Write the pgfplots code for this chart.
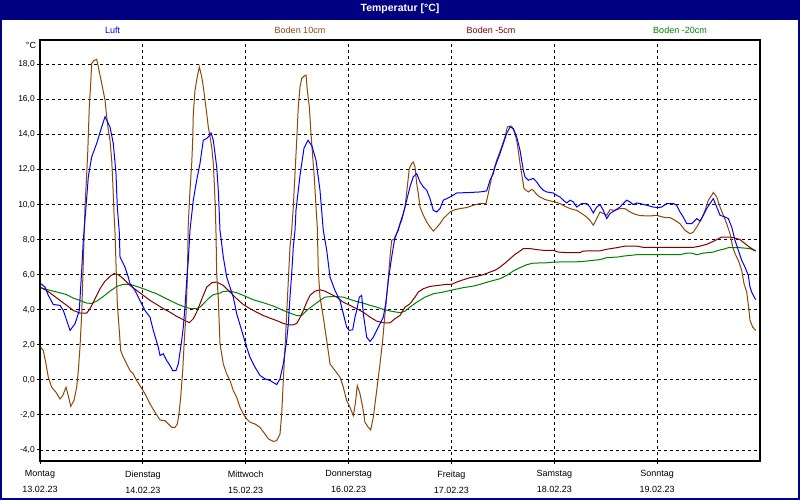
\documentclass[border=0pt]{standalone}
\usepackage{fontspec}
\setmainfont{Liberation Sans}
\usepackage{pgfplots}
\pgfplotsset{compat=1.18}
\definecolor{navy}{RGB}{0,0,128}
\definecolor{luft}{RGB}{0,0,255}
\definecolor{bzehn}{RGB}{140,72,8}
\definecolor{bfuenf}{RGB}{128,0,0}
\definecolor{bzwanzig}{RGB}{0,128,0}
\begin{document}
\begin{tikzpicture}
\useasboundingbox (0bp,0bp) rectangle (800bp,500bp);
\fill[white] (0bp,0bp) rectangle (800bp,500bp);
\fill[navy] (0bp,480bp) rectangle (800bp,500bp);
\draw[navy, line width=2bp] (1bp,0bp) -- (1bp,480bp) (799bp,0bp) -- (799bp,480bp) (0bp,1bp) -- (800bp,1bp);
\node[white, font=\bfseries\fontsize{10.5bp}{12bp}\selectfont] at (400bp,491.5bp) {Temperatur [°C]};
\begin{scope}[font=\fontsize{9bp}{11bp}\selectfont]
\node[luft] at (112.7bp,469.5bp) {Luft};
\node[bzehn] at (300bp,469.5bp) {Boden 10cm};
\node[bfuenf] at (491bp,469.5bp) {Boden -5cm};
\node[bzwanzig] at (680bp,469.5bp) {Boden -20cm};
\node at (31bp,455bp) {°C};
\end{scope}
\begin{axis}[
  at={(40bp,39bp)}, anchor=south west, scale only axis,
  width=720bp, height=421bp,
  xmin=0, xmax=168, ymin=-4.63, ymax=19.39,
  axis line style={line width=1.2bp, black},
  grid=major,
  major grid style={black, dash pattern=on 3bp off 3bp, line width=0.9bp},
  xtick={0,24,...,144},
  xticklabels={{Montag\\13.02.23},{Dienstag\\14.02.23},{Mittwoch\\15.02.23},{Donnerstag\\16.02.23},{Freitag\\17.02.23},{Samstag\\18.02.23},{Sonntag\\19.02.23}},
  ytick={-4,-2,...,18},
  xtick pos=left, ytick pos=left,
  tick align=outside, major tick length=3bp,
  tick style={black, line width=1bp},
  xticklabel style={align=center, font=\fontsize{9bp}{16bp}\selectfont, inner sep=2bp, yshift=-4.5bp},
  yticklabel style={font=\fontsize{8.5bp}{10bp}\selectfont, inner sep=2bp},
  /pgf/number format/.cd, fixed, fixed zerofill, precision=1, use comma, assume math mode=true,
]
% Boden -20cm
\addplot[bzwanzig, line width=1bp] coordinates {
(0.16,5.26)(1.56,5.16)(3.10,5.06)(4.67,4.97)(6.23,4.86)(7.77,4.66)(9.33,4.53)(10.90,4.38)(12.06,4.36)(13.23,4.49)(14.77,4.76)(16.33,5.06)(17.90,5.33)(19.44,5.45)(21.0,5.45)(22.56,5.33)(24.10,5.20)(25.67,5.05)(27.23,4.91)(28.77,4.72)(30.33,4.53)(31.90,4.34)(33.44,4.19)(35.0,4.07)(36.56,4.07)(37.33,4.15)(38.10,4.34)(39.27,4.63)(40.44,4.86)(42.0,4.95)(42.77,5.05)(44.33,5.06)(45.90,4.97)(47.44,4.82)(49.77,4.57)(52.10,4.40)(54.44,4.21)(56.77,3.96)(58.33,3.81)(59.90,3.67)(61.06,3.67)(62.23,3.96)(63.77,4.25)(65.33,4.53)(66.5,4.72)(68.44,4.76)(70.77,4.72)(72.33,4.59)(73.90,4.47)(75.44,4.38)(77.0,4.25)(78.56,4.15)(80.10,4.02)(81.67,3.93)(84.0,3.83)(85.17,3.92)(86.33,4.15)(87.90,4.43)(89.83,4.72)(91.77,4.91)(94.10,5.01)(96.44,5.14)(98.77,5.26)(101.10,5.35)(102.67,5.45)(105.0,5.62)(107.33,5.77)(108.90,5.96)(110.44,6.21)(112.0,6.40)(113.56,6.57)(115.10,6.66)(118.23,6.68)(119.77,6.72)(126.0,6.74)(130.67,6.86)(132.23,6.97)(134.94,7.01)(136.10,7.06)(139.23,7.14)(149.33,7.14)(150.90,7.23)(152.06,7.23)(153.23,7.14)(154.77,7.23)(157.10,7.29)(158.27,7.39)(159.44,7.45)(160.60,7.54)(163.33,7.54)(165.67,7.49)(167.0,7.35)
};
% Boden -5cm
\addplot[bfuenf, line width=1bp] coordinates {
(0.16,5.26)(1.56,5.10)(3.10,4.82)(4.67,4.53)(6.23,4.25)(7.77,3.96)(9.33,3.81)(10.90,3.81)(11.67,4.06)(12.83,4.63)(14.0,5.20)(15.17,5.63)(16.33,5.90)(17.27,6.06)(18.27,6.0)(19.44,5.77)(21.0,5.39)(22.56,5.10)(24.10,4.82)(25.67,4.53)(27.23,4.30)(28.77,4.06)(30.33,3.86)(31.90,3.62)(33.44,3.43)(34.84,3.26)(35.77,3.49)(36.56,3.86)(37.33,4.34)(38.10,4.82)(38.90,5.29)(40.06,5.54)(41.23,5.58)(42.77,5.39)(44.33,5.01)(45.90,4.63)(47.44,4.30)(49.0,4.06)(50.56,3.86)(52.10,3.67)(53.67,3.52)(55.23,3.38)(56.77,3.22)(57.94,3.14)(59.10,3.14)(59.90,3.22)(60.67,3.55)(61.44,3.96)(62.23,4.43)(63.0,4.82)(64.17,5.06)(65.33,5.14)(66.5,5.06)(67.67,4.91)(69.23,4.72)(70.77,4.43)(72.33,4.25)(73.90,4.06)(75.44,3.86)(77.0,3.58)(78.56,3.35)(80.10,3.26)(81.67,3.25)(82.83,3.49)(84.0,3.67)(85.17,4.15)(86.33,4.34)(87.5,4.72)(88.27,5.01)(89.44,5.20)(91.0,5.33)(92.94,5.39)(94.90,5.45)(96.06,5.45)(97.23,5.58)(98.77,5.71)(100.33,5.83)(101.90,5.90)(103.44,6.0)(105.0,6.15)(106.17,6.25)(107.33,6.43)(108.5,6.66)(109.67,6.91)(110.83,7.16)(112.0,7.35)(112.77,7.49)(114.33,7.49)(115.90,7.43)(117.44,7.39)(119.77,7.39)(120.94,7.29)(122.90,7.26)(126.0,7.26)(126.77,7.35)(130.67,7.36)(132.23,7.45)(134.56,7.54)(136.5,7.63)(139.23,7.63)(140.77,7.56)(143.90,7.56)(152.44,7.56)(154.0,7.63)(155.56,7.73)(156.73,7.86)(157.90,8.0)(159.06,8.15)(161.0,8.15)(162.17,8.09)(163.33,8.0)(164.5,7.77)(165.51,7.58)(166.44,7.43)(167.0,7.35)
};
% Boden 10cm
\addplot[bzehn, line width=1bp] coordinates {
(0.16,1.86)(0.77,1.67)(1.40,0.91)(1.94,0.15)(2.73,-0.42)(3.73,-0.71)(4.67,-1.09)(5.30,-0.90)(6.07,-0.42)(6.60,-0.90)(7.16,-1.51)(7.93,-1.18)(8.56,-0.42)(8.94,0.53)(9.33,1.86)(9.73,3.77)(10.10,6.63)(10.34,8.53)(10.5,9.86)(10.90,11.77)(11.13,12.91)(11.50,15.58)(11.83,16.91)(12.06,18.06)(12.6,18.21)(13.23,18.29)(13.60,17.86)(14.40,16.91)(15.17,15.96)(15.56,15.01)(15.94,14.25)(16.33,13.67)(16.73,12.53)(16.96,11.39)(17.27,9.49)(17.5,8.43)(17.73,6.63)(18.04,4.34)(18.50,2.82)(18.83,1.67)(19.44,1.29)(20.23,0.91)(21.0,0.53)(21.77,0.34)(22.56,-0.04)(23.33,-0.33)(24.5,-0.80)(25.67,-1.37)(26.83,-1.85)(28.0,-2.29)(29.17,-2.33)(29.94,-2.52)(30.73,-2.71)(31.5,-2.71)(32.04,-2.52)(32.43,-1.94)(32.83,-0.99)(33.30,0.53)(33.67,2.25)(34.07,3.77)(34.37,5.67)(34.60,8.91)(35.0,10.82)(35.40,12.34)(35.63,13.67)(35.77,15.20)(36.17,16.53)(36.70,17.29)(37.17,17.86)(37.73,17.29)(38.10,16.72)(38.5,15.96)(38.90,15.20)(39.27,14.43)(39.67,13.86)(40.06,13.29)(40.44,12.34)(40.67,11.20)(40.90,9.86)(41.07,8.34)(41.23,6.06)(41.60,4.65)(42.0,2.06)(42.77,0.91)(43.56,0.34)(44.33,-0.04)(45.10,-0.61)(45.90,-1.0)(46.67,-1.57)(47.44,-1.94)(48.23,-2.23)(49.0,-2.42)(50.17,-2.52)(51.33,-2.71)(52.5,-3.09)(53.27,-3.37)(54.44,-3.51)(55.23,-3.47)(56.0,-3.09)(56.40,-1.94)(56.77,-0.04)(57.17,1.86)(57.56,3.77)(57.94,5.67)(58.33,7.58)(58.73,8.53)(59.10,9.86)(59.5,11.77)(59.90,13.67)(60.27,15.58)(60.67,16.72)(61.06,17.20)(61.6,17.33)(62.07,17.39)(62.37,16.53)(62.84,15.58)(63.23,14.06)(63.63,12.72)(64.0,11.58)(64.4,9.86)(64.70,8.72)(64.94,6.25)(65.33,4.72)(66.10,3.58)(66.90,2.25)(67.67,0.91)(68.83,0.53)(70.0,0.15)(70.77,-0.42)(71.56,-1.18)(72.33,-1.57)(73.10,-2.04)(73.57,-1.37)(74.04,-0.33)(74.67,-0.80)(75.30,-1.57)(75.83,-2.42)(76.60,-2.71)(77.16,-2.86)(77.77,-2.14)(78.56,-0.61)(79.33,0.91)(79.96,2.25)(80.5,3.77)(81.04,5.10)(81.67,7.01)(82.06,7.96)(82.83,8.06)(83.60,8.63)(84.40,9.10)(85.17,9.86)(85.70,11.01)(86.17,12.06)(86.73,12.34)(87.10,12.43)(87.5,12.15)(87.90,11.20)(88.27,10.63)(88.67,9.86)(89.44,9.39)(90.23,9.01)(91.0,8.72)(91.77,8.49)(92.56,8.69)(93.33,8.91)(94.10,9.20)(94.90,9.39)(95.67,9.58)(96.83,9.71)(98.0,9.77)(99.56,9.83)(101.10,9.96)(102.67,10.06)(104.07,10.06)(104.60,10.63)(105.40,11.58)(106.56,12.53)(107.73,13.29)(108.5,13.86)(109.04,14.43)(109.67,14.47)(110.06,14.47)(110.83,14.06)(111.37,13.48)(112.0,12.34)(112.63,11.39)(112.93,10.91)(113.94,10.72)(114.73,10.86)(115.10,10.82)(115.90,10.57)(116.67,10.43)(117.83,10.29)(119.0,10.21)(120.17,10.15)(121.33,10.06)(122.5,9.90)(123.67,9.77)(125.23,9.67)(126.40,9.49)(127.56,9.29)(128.33,9.10)(129.10,8.82)(129.90,9.20)(130.67,9.58)(131.44,9.49)(132.23,9.39)(133.0,9.71)(134.17,9.67)(135.33,9.77)(136.5,9.77)(137.67,9.58)(138.83,9.45)(140.0,9.37)(142.33,9.35)(143.90,9.39)(144.67,9.33)(145.83,9.26)(147.0,9.26)(148.17,9.10)(149.33,8.91)(150.5,8.53)(151.67,8.34)(152.44,8.43)(153.23,8.72)(154.40,9.20)(155.17,9.67)(155.94,10.25)(156.73,10.53)(157.10,10.69)(157.90,10.43)(158.67,9.86)(159.44,9.39)(160.23,8.91)(161.0,8.34)(161.63,7.58)(162.17,7.20)(162.94,6.82)(163.73,6.25)(164.27,5.49)(164.90,5.01)(165.43,3.96)(165.67,3.39)(166.30,3.01)(167.0,2.82)
};
% Luft
\addplot[luft, line width=1bp] coordinates {
(0.16,5.49)(1.17,5.29)(1.94,4.82)(3.10,4.30)(4.67,4.25)(5.44,3.96)(6.23,3.39)(7.0,2.82)(8.17,3.20)(9.17,3.96)(9.73,6.25)(10.10,7.96)(10.73,9.86)(11.27,11.58)(12.06,12.72)(13.23,13.49)(14.40,14.43)(15.17,15.01)(16.33,14.43)(17.10,13.49)(17.73,11.77)(18.04,9.86)(18.50,8.43)(18.67,7.01)(19.83,6.43)(20.60,5.86)(21.0,5.49)(22.17,5.10)(23.33,4.53)(24.5,3.96)(25.67,3.58)(26.44,2.82)(27.60,1.86)(28.0,1.39)(28.77,1.49)(29.56,1.10)(30.33,0.82)(30.96,0.53)(31.73,0.53)(32.27,0.91)(33.06,2.25)(33.44,3.01)(33.83,4.15)(34.23,5.67)(34.60,6.82)(35.0,8.53)(35.12,8.82)(35.77,10.25)(36.56,11.39)(37.33,12.34)(38.10,13.67)(38.90,13.77)(39.67,13.96)(39.9,14.09)(40.44,13.67)(41.23,12.15)(41.60,10.82)(42.0,8.53)(42.77,7.01)(43.56,5.86)(44.33,5.29)(45.10,4.72)(45.90,3.77)(47.06,2.82)(48.23,1.86)(49.0,1.29)(50.17,0.72)(51.33,0.25)(52.5,0.06)(53.67,-0.04)(55.23,-0.27)(56.0,0.06)(56.77,0.91)(57.56,2.25)(57.94,3.20)(58.33,4.72)(58.73,6.06)(59.10,7.58)(59.5,8.53)(59.73,9.67)(60.67,11.67)(61.6,13.22)(62.53,13.67)(63.47,13.33)(64.4,12.53)(65.33,10.82)(66.10,8.53)(66.9,7.39)(67.67,5.86)(68.83,5.10)(70.0,4.53)(70.77,3.77)(71.56,3.01)(72.17,2.82)(72.96,2.86)(73.5,3.58)(73.9,3.96)(74.5,4.72)(75.06,4.82)(75.44,3.77)(76.23,2.43)(77.0,2.19)(77.77,2.43)(78.56,2.82)(79.33,3.20)(80.10,3.58)(80.66,4.34)(81.27,5.67)(82.06,7.01)(82.83,8.15)(83.60,8.53)(84.0,8.92)(84.77,9.49)(85.56,10.25)(86.33,11.01)(87.10,11.58)(87.90,11.77)(88.67,11.29)(89.44,11.01)(90.23,10.82)(91.0,10.34)(91.77,9.67)(92.56,9.58)(93.33,9.77)(94.10,10.25)(94.90,10.34)(95.67,10.43)(97.23,10.66)(100.33,10.69)(102.67,10.72)(104.23,10.78)(105.0,11.39)(105.77,11.77)(106.17,12.15)(107.33,12.91)(108.90,14.06)(109.67,14.43)(110.44,14.34)(111.23,13.86)(112.0,13.10)(112.77,11.96)(113.17,11.58)(113.94,11.39)(115.10,11.49)(115.90,11.29)(116.67,11.01)(117.44,10.82)(118.23,10.72)(119.77,10.66)(120.56,10.53)(121.33,10.43)(122.10,10.25)(122.90,10.09)(123.67,10.25)(124.44,10.15)(125.23,9.86)(126.40,10.06)(127.56,10.06)(128.33,9.86)(129.10,9.52)(129.90,9.86)(130.67,10.0)(131.44,9.67)(132.23,9.20)(133.0,9.49)(134.17,9.67)(135.33,9.86)(136.10,10.06)(136.90,10.25)(137.67,10.15)(138.44,10.0)(139.23,10.09)(140.0,10.06)(141.56,9.96)(143.10,9.86)(144.27,9.83)(145.06,9.86)(146.23,10.06)(147.77,10.06)(148.56,9.96)(149.33,9.58)(150.10,9.29)(150.90,8.91)(152.06,8.91)(153.23,9.20)(154.0,9.06)(154.77,9.39)(155.56,9.77)(156.33,10.06)(157.10,10.34)(157.90,9.86)(158.67,9.39)(159.83,9.29)(160.60,9.20)(161.40,8.72)(162.17,7.96)(162.94,7.39)(163.73,6.82)(164.5,6.43)(165.27,5.96)(165.67,5.29)(166.06,5.01)(166.44,4.82)(167.0,4.57)
};
\end{axis}
\end{tikzpicture}
\end{document}
